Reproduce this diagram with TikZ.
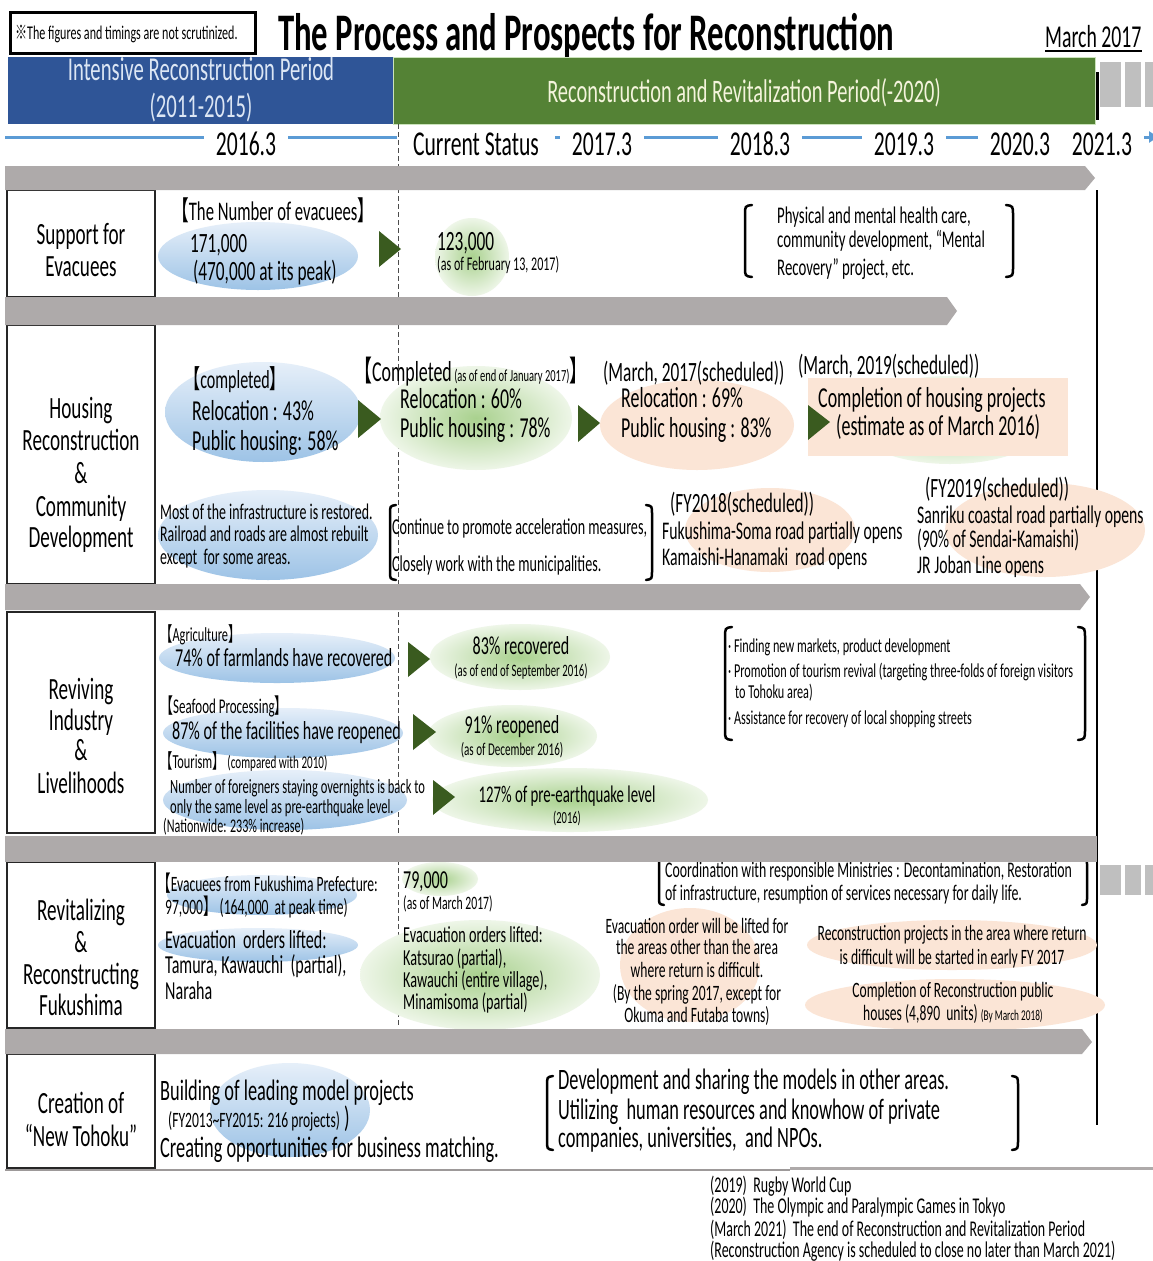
\documentclass[tikz,border=0pt]{standalone}
\usepackage{fontspec}
\setmainfont{Carlito}[FakeStretch=0.62]
\newfontfamily\cjk{Noto Sans CJK JP}[FakeStretch=0.62]
\usetikzlibrary{arrows.meta}
\definecolor{barblue}{HTML}{2F5597}
\definecolor{bargreen}{HTML}{548235}
\definecolor{bartxtblue}{HTML}{DCE6F4}
\definecolor{bartxtgreen}{HTML}{F4F4DC}
\definecolor{tlblue}{HTML}{5B9BD5}
\definecolor{bandgray}{HTML}{AEAAAA}
\definecolor{sqgray}{HTML}{BFBFBF}
\definecolor{arrowgreen}{HTML}{3A5B1F}
\definecolor{bluedark}{HTML}{9DC3E6}
\definecolor{bluelight}{HTML}{E6EFF9}
\definecolor{greendark}{HTML}{A9D18E}
\definecolor{greenlight}{HTML}{EEF6E8}
\definecolor{peach}{HTML}{FBE5D6}
\definecolor{boxline}{HTML}{262626}
\newcommand\fsz[1]{\fontsize{#1}{#1}\selectfont}
\newcommand\lk{{\cjk 【}}
\newcommand\rk{{\cjk 】}}
\tikzset{
  tx/.style={anchor=base west, inner sep=0pt},
  tcx/.style={anchor=base, inner sep=0pt},
  rowlabel/.style={anchor=base, inner sep=0pt, font=\fsz{31}},
  tlab/.style={anchor=base, inner xsep=12bp, inner ysep=0pt, fill=white, font=\fsz{35}},
  tline/.style={draw=tlblue, line width=3bp},
  band/.style={fill=bandgray},
  labelbox/.style={draw=boxline, line width=2.5bp},
  blueell/.style={top color=bluelight, bottom color=bluedark},
  greenell/.style={inner color=greendark, outer color=greenlight},
  peachell/.style={fill=peach},
  pointer/.style={fill=arrowgreen},
  brk/.style={draw=black, line width=2.5bp, line cap=round},
}
\begin{document}
\begin{tikzpicture}[x=1bp,y=-1bp]
\useasboundingbox (0,0) rectangle (1153,1261);
\fill[white] (0,0) rectangle (1153,1261);

% ---------- header ----------
\draw[line width=3bp] (10,12) rectangle (255,53);
\node[tx,font=\fsz{19.5}] (note) at (15,39) {{\cjk ※}The figures and timings are not scrutinized.};
\node[tx,font=\bfseries\fsz{53}] (title) at (278,50) {The Process and Prospects for Reconstruction};
\node[tx,font=\fsz{32}] (date) at (1045,47) {March 2017};
\draw[line width=2bp] ([yshift=-4bp]date.base west) -- ([yshift=-4bp]date.base east);

% ---------- period bars ----------
\fill[barblue] (8,57) rectangle (393,124);
\fill[bargreen] (393,57) rectangle (1095,124);
\draw[draw=greendark!60!white, line width=1bp] (393,57) rectangle (1095,124);
\node[tcx,font=\fsz{33.5},text=bartxtblue] (p1a) at (201,80) {Intensive Reconstruction Period};
\node[tcx,font=\fsz{33.5},text=bartxtblue] (p1b) at (201,117) {(2011-2015)};
\node[tcx,font=\fsz{33},text=bartxtgreen] (p2) at (744,102) {Reconstruction and Revitalization Period(-2020)};
\draw[line width=3bp] (1097,72) -- (1097,120);
\fill[sqgray] (1100,62) rectangle (1121,107);
\fill[sqgray] (1125,62) rectangle (1141,107);
\fill[sqgray] (1145,62) rectangle (1153,107);

% ---------- timeline ----------
\coordinate (tl0) at (5,137);
\node[tlab] (t2016) at (246,155) {2016.3};
\node[tlab,inner xsep=16bp] (tcur) at (476,155) {Current Status};
\node[tlab] (t2017) at (602,155) {2017.3};
\node[tlab] (t2018) at (760,155) {2018.3};
\node[tlab] (t2019) at (904,155) {2019.3};
\node[tlab] (t2020) at (1020,155) {2020.3};
\node[tlab] (t2021) at (1102,155) {2021.3};
\draw[tline] (tl0) -- (tl0 -| t2016.west);
\draw[tline] (t2016.east |- tl0) -- (tcur.west |- tl0);
\draw[tline] (tcur.east |- tl0) -- (t2017.west |- tl0);
\draw[tline] (t2017.east |- tl0) -- (t2018.west |- tl0);
\draw[tline] (t2018.east |- tl0) -- (t2019.west |- tl0);
\draw[tline] (t2019.east |- tl0) -- (t2020.west |- tl0);
\draw[tline,-{Triangle[length=9bp,width=11bp]}] (t2021.east |- tl0) -- (1158,137);

% ---------- guide lines ----------
\draw[line width=0.8bp, dash pattern=on 5bp off 3bp, draw=black!70] (398,124) -- (398,1028);
\draw[line width=2bp] (1097,190) -- (1097,1125);
\fill[sqgray] (1100,865) rectangle (1121,895);
\fill[sqgray] (1125,865) rectangle (1141,895);
\fill[sqgray] (1145,865) rectangle (1153,895);

% ---------- row label boxes ----------
\draw[labelbox] (7,190) rectangle (155,297);
\draw[labelbox] (7,325) rectangle (155,584);
\draw[labelbox] (7,612) rectangle (155,833);
\draw[labelbox] (7,862) rectangle (155,1028);
\draw[labelbox] (7,1054) rectangle (155,1168);

\node[rowlabel] (l1a) at (81,244) {Support for};
\node[rowlabel] (l1b) at (81,276) {Evacuees};
\node[rowlabel] (l2a) at (81,418) {Housing};
\node[rowlabel] (l2b) at (81,450) {Reconstruction};
\node[rowlabel] (l2c) at (81,483) {\&};
\node[rowlabel] (l2d) at (81,516) {Community};
\node[rowlabel] (l2e) at (81,547) {Development};
\node[rowlabel] (l3a) at (81,699) {Reviving};
\node[rowlabel] (l3b) at (81,730) {Industry};
\node[rowlabel] (l3c) at (81,760) {\&};
\node[rowlabel] (l3d) at (81,793) {Livelihoods};
\node[rowlabel] (l4a) at (81,920) {Revitalizing};
\node[rowlabel] (l4b) at (81,952) {\&};
\node[rowlabel] (l4c) at (81,984) {Reconstructing};
\node[rowlabel] (l4d) at (81,1015) {Fukushima};
\node[rowlabel] (l5a) at (81,1113) {Creation of};
\node[rowlabel] (l5b) at (81,1146) {“New Tohoku”};

% ---------- row 1: evacuees ----------
\shade[blueell] (258,256) ellipse [x radius=100, y radius=34];
\shade[greenell] (472,257) ellipse [x radius=37, y radius=39];
\fill[pointer] (379,231) -- (401,249) -- (379,267) -- cycle;
\node[tx,font=\fsz{27}] (r1h) at (172,220) {\lk The Number of evacuees\rk};
\node[tx,font=\fsz{28}] (r1a) at (190,252) {171,000};
\node[tx,font=\fsz{28}] (r1b) at (193,280) {(470,000 at its peak)};
\node[tx,font=\fsz{28}] (r1c) at (437,250) {123,000};
\node[tx,font=\fsz{19.5}] (r1d) at (437,270) {(as of February 13, 2017)};
\draw[brk] (752,205) .. controls (745,206) .. (745,215) -- (745,267) .. controls (745,276) .. (752,277);
\draw[brk] (1006,205) .. controls (1013,206) .. (1013,215) -- (1013,267) .. controls (1013,276) .. (1006,277);
\node[tx,font=\fsz{24}] (r1e) at (777,223) {Physical and mental health care,};
\node[tx,font=\fsz{24}] (r1f) at (777,247) {community development, “Mental};
\node[tx,font=\fsz{24}] (r1g) at (777,275) {Recovery” project, etc.};

% ---------- row 2: housing ----------
\shade[blueell] (263,412) ellipse [x radius=98, y radius=50];
\shade[greenell] (476,418) ellipse [x radius=96, y radius=52];
\fill[peachell] (697,425) ellipse [x radius=97, y radius=45];
\shade[greenell] (950,420) ellipse [x radius=100, y radius=44];
\fill[peach] (808,378) rectangle (1068,456);
\shade[blueell] (268,535) ellipse [x radius=110, y radius=45];
\fill[peachell] (770,530) ellipse [x radius=85, y radius=42];
\fill[peachell] (1045,530) ellipse [x radius=100, y radius=47];
\fill[pointer] (358,400) -- (381,419) -- (358,438) -- cycle;
\fill[pointer] (578,405) -- (600,423) -- (578,442) -- cycle;
\fill[pointer] (808,405) -- (830,422) -- (808,440) -- cycle;
\node[tx,font=\fsz{26}] (r2a) at (184,388) {\lk completed\rk};
\node[tx,font=\fsz{29}] (r2b) at (192,420) {Relocation : 43\%};
\node[tx,font=\fsz{29}] (r2c) at (192,450) {Public housing: 58\%};
\node[tx,font=\fsz{29}] (r2d) at (354,381) {\lk Completed{\fsz{17} (as of end of January 2017)}\rk};
\node[tx,font=\fsz{29}] (r2e) at (400,408) {Relocation : 60\%};
\node[tx,font=\fsz{29}] (r2f) at (400,437) {Public housing : 78\%};
\node[tx,font=\fsz{28}] (r2g) at (603,381) {(March, 2017(scheduled))};
\node[tx,font=\fsz{29}] (r2h) at (621,407) {Relocation : 69\%};
\node[tx,font=\fsz{29}] (r2i) at (621,437) {Public housing : 83\%};
\node[tx,font=\fsz{28}] (r2j) at (798,374) {(March, 2019(scheduled))};
\node[tx,font=\fsz{29}] (r2k) at (818,407) {Completion of housing projects};
\node[tx,font=\fsz{29}] (r2l) at (836,435) {(estimate as of March 2016)};
\node[tx,font=\fsz{22.5}] (r2m) at (160,519) {Most of the infrastructure is restored.};
\node[tx,font=\fsz{22.5}] (r2n) at (160,541) {Railroad and roads are almost rebuilt};
\node[tx,font=\fsz{22.5}] (r2o) at (160,564) {except\ \ for some areas.};
\draw[brk] (396,505) .. controls (390,506) .. (390,514) -- (390,571) .. controls (390,579) .. (396,580);
\draw[brk] (646,505) .. controls (652,506) .. (652,514) -- (652,571) .. controls (652,579) .. (646,580);
\node[tx,font=\fsz{22.8}] (r2p) at (392,534) {Continue to promote acceleration measures,};
\node[tx,font=\fsz{22.8}] (r2q) at (392,571) {Closely work with the municipalities.};
\node[tx,font=\fsz{28}] (r2r) at (670,512) {(FY2018(scheduled))};
\node[tx,font=\fsz{25.5}] (r2s) at (662,539) {Fukushima-Soma road partially opens};
\node[tx,font=\fsz{25.5}] (r2t) at (662,565) {Kamaishi-Hanamaki\ \ road opens};
\node[tx,font=\fsz{28}] (r2u) at (925,497) {(FY2019(scheduled))};
\node[tx,font=\fsz{25.5}] (r2v) at (917,523) {Sanriku coastal road partially opens};
\node[tx,font=\fsz{25.5}] (r2w) at (917,547) {(90\% of Sendai-Kamaishi)};
\node[tx,font=\fsz{25.5}] (r2x) at (917,573) {JR Joban Line opens};

% ---------- row 3: industry ----------
\shade[blueell] (277,658) ellipse [x radius=118, y radius=25];
\shade[greenell] (520,657) ellipse [x radius=90, y radius=33];
\shade[blueell] (283,733) ellipse [x radius=120, y radius=25];
\shade[greenell] (512,736) ellipse [x radius=85, y radius=31];
\shade[blueell] (285,800) ellipse [x radius=122, y radius=30];
\shade[greenell] (570,800) ellipse [x radius=138, y radius=32];
\fill[pointer] (408,642) -- (430,659) -- (408,677) -- cycle;
\fill[pointer] (413,714) -- (436,732) -- (413,750) -- cycle;
\fill[pointer] (433,780) -- (455,797) -- (433,815) -- cycle;
\node[tx,font=\fsz{20}] (r3a) at (160,641) {\lk Agriculture\rk};
\node[tx,font=\fsz{26}] (r3b) at (175,666) {74\% of farmlands have recovered};
\node[tcx,font=\fsz{26}] (r3c) at (521,654) {83\% recovered};
\node[tcx,font=\fsz{17.5}] (r3d) at (521,676) {(as of end of September 2016)};
\node[tx,font=\fsz{21}] (r3e) at (160,713) {\lk Seafood Processing\rk};
\node[tx,font=\fsz{26}] (r3f) at (172,739) {87\% of the facilities have\ reopened};
\node[tcx,font=\fsz{26}] (r3g) at (512,733) {91\% reopened};
\node[tcx,font=\fsz{18}] (r3h) at (512,755) {(as of December 2016)};
\node[tx,font=\fsz{20}] (r3i) at (160,768) {\lk Tourism\rk\ {\fsz{18}(compared with 2010)}};
\node[tx,font=\fsz{20.3}] (r3j) at (170,793) {Number of foreigners staying overnights is back to};
\node[tx,font=\fsz{20.3}] (r3k) at (170,813) {only the same level as pre-earthquake level.};
\node[tx,font=\fsz{19.5}] (r3l) at (163,832) {(Nationwide: 233\% increase)};
\node[tcx,font=\fsz{24}] (r3m) at (567,802) {127\% of pre-earthquake level};
\node[tcx,font=\fsz{17}] (r3n) at (567,823) {(2016)};
\draw[brk] (732,627) .. controls (725,628) .. (725,638) -- (725,729) .. controls (725,739) .. (732,740);
\draw[brk] (1078,627) .. controls (1085,628) .. (1085,638) -- (1085,729) .. controls (1085,739) .. (1078,740);
\node[tx,font=\fsz{19.8}] (r3o) at (728,652) {· Finding new markets, product development};
\node[tx,font=\fsz{19.8}] (r3p) at (728,677) {· Promotion of tourism revival (targeting three-folds of foreign visitors};
\node[tx,font=\fsz{19.8}] (r3q) at (735,698) {to Tohoku area)};
\node[tx,font=\fsz{19.8}] (r3r) at (728,724) {· Assistance for recovery of local shopping streets};

% ---------- row 4: Fukushima ----------
\shade[blueell] (262,895) ellipse [x radius=95, y radius=20];
\shade[blueell] (258,945) ellipse [x radius=100, y radius=17];
\shade[greenell] (440,879) ellipse [x radius=38, y radius=17];
\shade[greenell] (480,975) ellipse [x radius=120, y radius=55];
\fill[peachell] (690,965) ellipse [x radius=70, y radius=57];
\fill[peachell] (952,945) ellipse [x radius=145, y radius=25];
\fill[peachell] (955,1005) ellipse [x radius=150, y radius=26];
\node[tx,font=\fsz{22}] (r4a) at (157,891) {\lk Evacuees from Fukushima Prefecture:};
\node[tx,font=\fsz{22}] (r4b) at (165,914) {97,000\rk\ (164,000\ \ at peak time)};
\node[tx,font=\fsz{26}] (r4c) at (165,948) {Evacuation\ \ orders lifted:};
\node[tx,font=\fsz{26}] (r4d) at (165,973) {Tamura, Kawauchi\ \ (partial),};
\node[tx,font=\fsz{26}] (r4e) at (165,999) {Naraha};
\node[tx,font=\fsz{26}] (r4f) at (403,888) {79,000};
\node[tx,font=\fsz{19}] (r4g) at (403,909) {(as of March 2017)};
\node[tx,font=\fsz{23}] (r4h) at (403,942) {Evacuation orders lifted:};
\node[tx,font=\fsz{23}] (r4i) at (403,965) {Katsurao (partial),};
\node[tx,font=\fsz{23}] (r4j) at (403,987) {Kawauchi (entire village),};
\node[tx,font=\fsz{23}] (r4k) at (403,1009) {Minamisoma (partial)};
\draw[brk] (664,858) .. controls (659,859) .. (659,866) -- (659,897) .. controls (659,904) .. (664,905);
\draw[brk] (1082,858) .. controls (1087,859) .. (1087,866) -- (1087,897) .. controls (1087,904) .. (1082,905);
\node[tx,font=\fsz{22.4}] (r4l) at (665,877) {Coordination with responsible Ministries : Decontamination, Restoration};
\node[tx,font=\fsz{22.4}] (r4m) at (665,900) {of infrastructure, resumption of services necessary for daily life.};
\node[tcx,font=\fsz{22}] (r4n) at (697,933) {Evacuation order will be lifted for};
\node[tcx,font=\fsz{22}] (r4o) at (697,954) {the areas other than the area};
\node[tcx,font=\fsz{22}] (r4p) at (697,977) {where return is difficult.};
\node[tcx,font=\fsz{22}] (r4q) at (697,1000) {(By the spring 2017, except for};
\node[tcx,font=\fsz{22}] (r4r) at (697,1022) {Okuma and Futaba towns)};
\node[tcx,font=\fsz{22}] (r4s) at (952,940) {Reconstruction projects in the area where return};
\node[tcx,font=\fsz{22}] (r4t) at (952,964) {is difficult will be started in early FY 2017};
\node[tcx,font=\fsz{22}] (r4u) at (953,997) {Completion of Reconstruction public};
\node[tcx,font=\fsz{22}] (r4v) at (953,1020) {houses (4,890\ \ units) {\fsz{15}(By March 2018)}};

% ---------- row 5: New Tohoku ----------
\shade[blueell] (290,1110) ellipse [x radius=80, y radius=47];
\node[tx,font=\fsz{29.7}] (r5a) at (160,1100) {Building of leading model projects};
\node[tx,font=\fsz{29.7}] (r5b) at (168,1127) {{\fsz{22}(FY2013\textasciitilde FY2015: 216 projects)} )};
\node[tx,font=\fsz{29.7}] (r5c) at (160,1157) {Creating opportunities for business matching.};
\draw[brk] (553,1076) .. controls (547,1077) .. (547,1086) -- (547,1140) .. controls (547,1149) .. (553,1150);
\draw[brk] (1012,1076) .. controls (1018,1077) .. (1018,1086) -- (1018,1140) .. controls (1018,1149) .. (1012,1150);
\node[tx,font=\fsz{29.7}] (r5d) at (558,1089) {Development and sharing the models in other areas.};
\node[tx,font=\fsz{29.7}] (r5e) at (558,1119) {Utilizing\ \ human resources and knowhow of private};
\node[tx,font=\fsz{29.7}] (r5f) at (558,1147) {companies, universities,\ \ and NPOs.};

% ---------- separating bands ----------
\fill[band] (5,166) -- (1085,166) -- (1095,178) -- (1085,190) -- (5,190) -- cycle;
\fill[band] (5,297) -- (947,297) -- (957,311) -- (947,325) -- (5,325) -- cycle;
\fill[band] (5,584) -- (1080,584) -- (1090,597) -- (1080,610) -- (5,610) -- cycle;
\fill[band] (5,836) rectangle (1097,862);
\fill[band] (5,1029) -- (1082,1029) -- (1092,1042) -- (1082,1054) -- (5,1054) -- cycle;
\draw[draw=bandgray!90!black, line width=1.5bp] (5,1170) -- (790,1170);
\draw[draw=bandgray, line width=3bp] (790,1168) -- (1153,1168);

% ---------- footnotes ----------
\node[tx,font=\fsz{22.6}] (n1) at (710,1192) {(2019)\ \ Rugby\ World Cup};
\node[tx,font=\fsz{22.6}] (n2) at (710,1213) {(2020)\ \ The Olympic and Paralympic Games in Tokyo};
\node[tx,font=\fsz{22.6}] (n3) at (710,1236) {(March 2021)\ \ The\ end of Reconstruction and Revitalization Period};
\node[tx,font=\fsz{22.6}] (n4) at (710,1257) {(Reconstruction Agency is scheduled to close no later than March 2021)};
\end{tikzpicture}
\end{document}
